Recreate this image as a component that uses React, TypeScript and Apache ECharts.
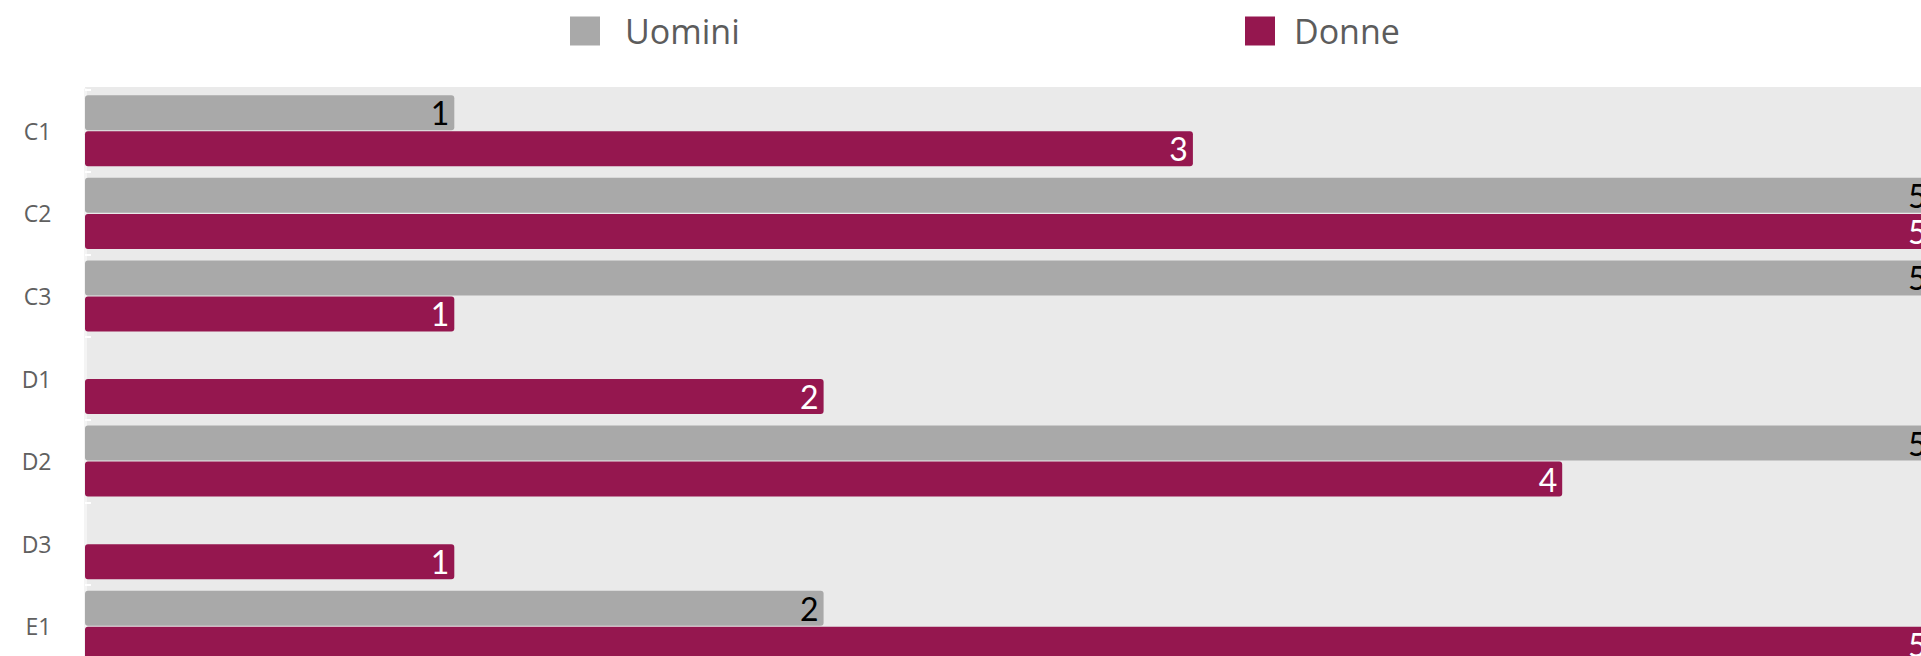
import React, { useEffect, useRef } from "react";
import * as echarts from "echarts";

const categories = ["C1", "C2", "C3", "D1", "D2", "D3", "E1"];
const uomini: (number | null)[] = [1, 5, 5, null, 5, null, 2];
const donne: (number | null)[] = [3, 5, 1, 2, 4, 1, 5];
const seriesNames = ["Uomini", "Donne"];
const xMin = 0;
const xMax = 5;

const GREY = "#a9a9a9";
const WINE = "#95174f";
const FONT = "Lato, 'Open Sans', sans-serif";
const FONT2 = "'Open Sans', Lato, sans-serif";

export default function App() {
  const ref = useRef<HTMLDivElement>(null);

  useEffect(() => {
    document.documentElement.style.overflow = "hidden";
    document.body.style.overflow = "hidden";
    if (!ref.current) return;
    const chart = echarts.init(ref.current, null, { renderer: "svg" });
    const legendText = (padLeft: number) => ({
      fontSize: 34,
      fontFamily: FONT2,
      color: "#5c5c5c",
      padding: [0, 0, 0, padLeft],
    });
    chart.setOption({
      animation: false,
      backgroundColor: "#ffffff",
      graphic: [
        {
          type: "rect",
          left: 77,
          top: 79,
          z: -10,
          silent: true,
          shape: { width: 1900, height: 700 },
          style: { fill: "#eaeaea" },
        },
      ],
      legend: [
        {
          data: [seriesNames[0]],
          left: 562,
          top: 6,
          padding: 0,
          itemWidth: 30,
          itemHeight: 29,
          icon: "rect",
          textStyle: legendText(20),
        },
        {
          data: [seriesNames[1]],
          left: 1237,
          top: 6,
          padding: 0,
          itemWidth: 30,
          itemHeight: 29,
          icon: "rect",
          textStyle: legendText(14),
        },
      ],
      grid: {
        left: 77,
        right: 36.5,
        top: 81.5,
        bottom: 20.5,
        show: false,
      },
      xAxis: {
        type: "value",
        min: xMin,
        max: xMax,
        show: false,
      },
      yAxis: {
        type: "category",
        data: categories,
        inverse: true,
        axisLine: { show: true, lineStyle: { color: "#f4f4f4", width: 3 } },
        axisTick: {
          show: true,
          inside: true,
          length: 6,
          lineStyle: { color: "#ffffff", width: 2 },
        },
        axisLabel: {
          fontSize: 23,
          fontFamily: FONT2,
          color: "#606060",
          align: "right",
          margin: 33.5,
        },
        splitLine: { show: false },
      },
      series: [
        {
          name: seriesNames[0],
          type: "bar",
          data: uomini,
          barWidth: 35,
          barGap: "3%",
          itemStyle: { color: GREY, borderRadius: 3 },
          label: {
            show: true,
            position: "insideRight",
            distance: 5,
            color: "#000000",
            fontSize: 32,
            fontFamily: FONT,
          },
        },
        {
          name: seriesNames[1],
          type: "bar",
          data: donne,
          barWidth: 35,
          barGap: "3%",
          itemStyle: { color: WINE, borderRadius: 3 },
          label: {
            show: true,
            position: "insideRight",
            distance: 5,
            color: "#ffffff",
            fontSize: 32,
            fontFamily: FONT,
          },
        },
      ],
    });
    return () => chart.dispose();
  }, []);

  return (
    <div
      style={{
        position: "fixed",
        left: 0,
        top: 0,
        width: "100vw",
        height: "100vh",
        overflow: "hidden",
        background: "#ffffff",
      }}
    >
      <div
        ref={ref}
        style={{ position: "absolute", left: 8, top: 8, width: 1960, height: 680 }}
      />
    </div>
  );
}
